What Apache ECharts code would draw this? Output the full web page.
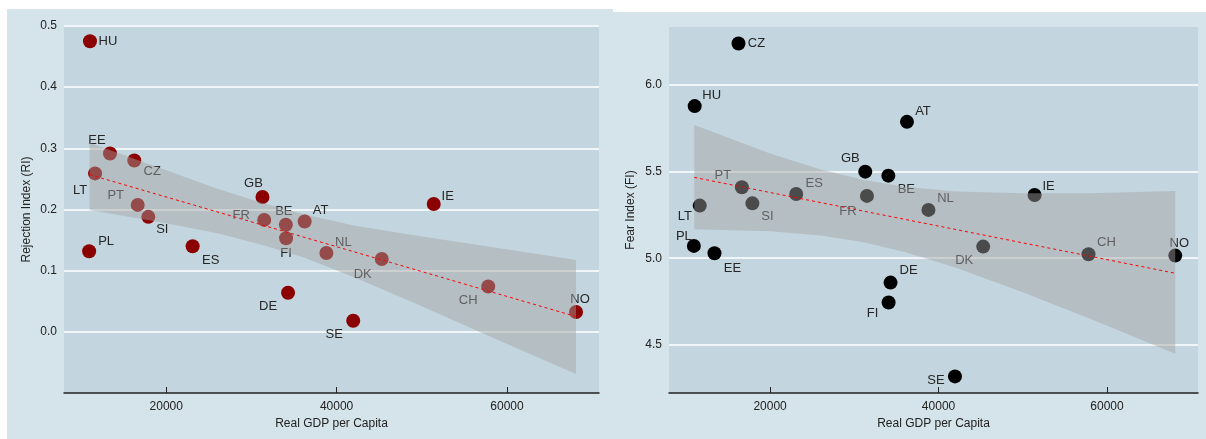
<!DOCTYPE html>
<html>
<head>
<meta charset="utf-8">
<script src="https://cdn.jsdelivr.net/npm/echarts@6/dist/echarts.min.js"></script>
<style>
html, body { margin: 0; padding: 0; background: #fff; }
#chart { width: 1206px; height: 439px; }
</style>
</head>
<body>
<div id="chart"></div>
<script>
// values
var countries = ['HU', 'EE', 'CZ', 'LT', 'PT', 'SI', 'PL', 'ES', 'GB', 'FR',
                 'BE', 'FI', 'AT', 'DE', 'NL', 'DK', 'SE', 'IE', 'CH', 'NO']
var gdp = [11050, 13400, 16250, 11650, 16650, 17900, 10950, 23100, 31300, 31500,
           34040, 34070, 36250, 34300, 38800, 45300, 41950, 51400, 57800, 68100]
var rejection = [0.475, 0.2915, 0.280, 0.259, 0.2075, 0.188, 0.1317, 0.1398, 0.2205, 0.183,
                 0.175, 0.153, 0.1805, 0.064, 0.129, 0.119, 0.018, 0.209, 0.074, 0.0325]
var fear = [5.879, 5.029, 6.241, 5.304, 5.410, 5.317, 5.071, 5.371, 5.500, 5.360,
            5.477, 4.744, 5.788, 4.859, 5.279, 5.067, 4.317, 5.365, 5.023, 5.015]

// fitted line and confidence band
var fitX = [11000, 68100]
var rejectFit = [0.257, 0.025]
var fearFit = [5.467, 4.913]
var bandX = [11000, 20000, 26000, 31000, 36000, 42000, 50000, 58000, 68100]
var rejectUpper = [0.309, 0.264, 0.234, 0.2117, 0.1927, 0.174, 0.156, 0.139, 0.1176]
var rejectLower = [0.199, 0.1777, 0.161, 0.1433, 0.1223, 0.0897, 0.042, -0.0075, -0.069]
var fearUpper = [5.769, 5.605, 5.513, 5.453, 5.413, 5.386, 5.375, 5.376, 5.388]
var fearLower = [5.167, 5.155, 5.131, 5.093, 5.036, 4.946, 4.803, 4.65, 4.448]

// tick labels
var gdpTicks = [20000, 40000, 60000]
var rejectTicks = [0.0, 0.1, 0.2, 0.3, 0.4, 0.5]
var fearTicks = [4.5, 5.0, 5.5, 6.0]

// label offsets (px) from the marker centre
var leftLabelPos = {
    HU: [18, 0], EE: [-13, -13], CZ: [18, 11], LT: [-15, 17], PT: [-22, -9],
    SI: [14, 13], PL: [17, -10], ES: [18, 14], GB: [-9, -14], FR: [-23, -4],
    BE: [-2, -13], FI: [0, 15], AT: [16, -11], DE: [-20, 14], NL: [17, -11],
    DK: [-19, 15], SE: [-19, 14], IE: [14, -8], CH: [-20, 14], NO: [4, -13]
}
var rightLabelPos = {
    HU: [17, -11], EE: [18, 15], CZ: [18, 0], LT: [-15, 11], PT: [-19, -12],
    SI: [15, 13], PL: [-10, -9], ES: [18, -11], GB: [-15, -13], FR: [-19, 16],
    BE: [18, 14], FI: [-16, 11], AT: [16, -10], DE: [18, -12], NL: [17, -11],
    DK: [-19, 14], SE: [-19, 4], IE: [14, -9], CH: [18, -12], NO: [4, -12]
}

var FONT = 'Liberation Sans, Arial, sans-serif'
var TEXT = '#222'

function points(yValues, offsets) {
    return countries.map(function (c, i) {
        return { name: c, value: [gdp[i], yValues[i]], label: { offset: offsets[c] } }
    })
}

function bandSeries(idx, upper, lower) {
    return {
        type: 'custom',
        xAxisIndex: idx,
        yAxisIndex: idx,
        z: 3,
        silent: true,
        data: [[bandX[0], upper[0]]],
        renderItem: function (params, api) {
            var pts = []
            for (var i = 0; i < bandX.length; i++) pts.push(api.coord([bandX[i], upper[i]]))
            for (var j = bandX.length - 1; j >= 0; j--) pts.push(api.coord([bandX[j], lower[j]]))
            return { type: 'polygon', shape: { points: pts }, style: { fill: 'rgba(163,163,163,0.46)' } }
        }
    }
}

function fitSeries(idx, fit) {
    return {
        type: 'line',
        xAxisIndex: idx,
        yAxisIndex: idx,
        z: 4,
        silent: true,
        symbol: 'none',
        data: [[fitX[0], fit[0]], [fitX[1], fit[1]]],
        lineStyle: { color: '#ff0000', width: 1, type: [3, 3] }
    }
}

function scatterSeries(idx, yValues, offsets, color) {
    return {
        type: 'scatter',
        xAxisIndex: idx,
        yAxisIndex: idx,
        z: 2,
        symbolSize: 14,
        itemStyle: { color: color, opacity: 1 },
        label: {
            show: true,
            position: 'inside',
            formatter: '{b}',
            color: '#262626',
            fontSize: 13,
            fontFamily: FONT
        },
        emphasis: { disabled: true },
        data: points(yValues, offsets)
    }
}

function xAxis(idx) {
    return {
        type: 'value',
        gridIndex: idx,
        min: 8000,
        max: 70800,
        name: 'Real GDP per Capita',
        nameLocation: 'middle',
        nameGap: 24,
        nameTextStyle: { color: TEXT, fontSize: 12, fontFamily: FONT },
        axisLine: { show: true, onZero: false, lineStyle: { color: '#222', width: 1.5 } },
        axisTick: { show: true, inside: true, length: 6, customValues: gdpTicks, lineStyle: { color: '#222' } },
        axisLabel: {
            customValues: gdpTicks, margin: 8, color: TEXT, fontSize: 12, fontFamily: FONT,
            formatter: function (v) { return String(v) }
        },
        splitLine: { show: false }
    }
}

var myChart = echarts.init(document.getElementById('chart'))
var options = {
    animation: false,
    graphic: [
        { type: 'rect', z: -10, shape: { x: 7, y: 9, width: 606, height: 430 }, style: { fill: '#d5e3ea' } },
        { type: 'rect', z: -10, shape: { x: 613, y: 12, width: 593, height: 427 }, style: { fill: '#d5e3ea' } }
    ],
    grid: [
        { left: 64, top: 26, width: 535, height: 367, show: true, backgroundColor: '#c3d5de', borderWidth: 0 },
        { left: 669, top: 27, width: 529, height: 366, show: true, backgroundColor: '#c3d5de', borderWidth: 0 }
    ],
    xAxis: [xAxis(0), xAxis(1)],
    yAxis: [
        {
            type: 'value',
            gridIndex: 0,
            min: -0.1,
            max: 0.5,
            name: 'Rejection Index (RI)',
            nameLocation: 'middle',
            nameGap: 31,
            nameTextStyle: { color: TEXT, fontSize: 12, fontFamily: FONT },
            axisLine: { show: false },
            axisTick: { show: false, customValues: rejectTicks },
            axisLabel: {
                customValues: rejectTicks,
                margin: 7, color: TEXT, fontSize: 12, fontFamily: FONT,
                formatter: function (v) { return v.toFixed(1) }
            },
            splitLine: { show: true, lineStyle: { color: '#ffffff', width: 1.5 } }
        },
        {
            type: 'value',
            gridIndex: 1,
            min: 4.221,
            max: 6.336,
            name: 'Fear Index (FI)',
            nameLocation: 'middle',
            nameGap: 32,
            nameTextStyle: { color: TEXT, fontSize: 12, fontFamily: FONT },
            axisLine: { show: false },
            axisTick: { show: false, customValues: fearTicks },
            axisLabel: {
                customValues: fearTicks,
                margin: 7, color: TEXT, fontSize: 12, fontFamily: FONT,
                formatter: function (v) { return v.toFixed(1) }
            },
            splitLine: { show: true, lineStyle: { color: '#ffffff', width: 1.5 } }
        }
    ],
    series: [
        scatterSeries(0, rejection, leftLabelPos, '#8b0000'),
        bandSeries(0, rejectUpper, rejectLower),
        fitSeries(0, rejectFit),
        scatterSeries(1, fear, rightLabelPos, '#000000'),
        bandSeries(1, fearUpper, fearLower),
        fitSeries(1, fearFit)
    ]
}
myChart.setOption(options)
</script>
</body>
</html>
